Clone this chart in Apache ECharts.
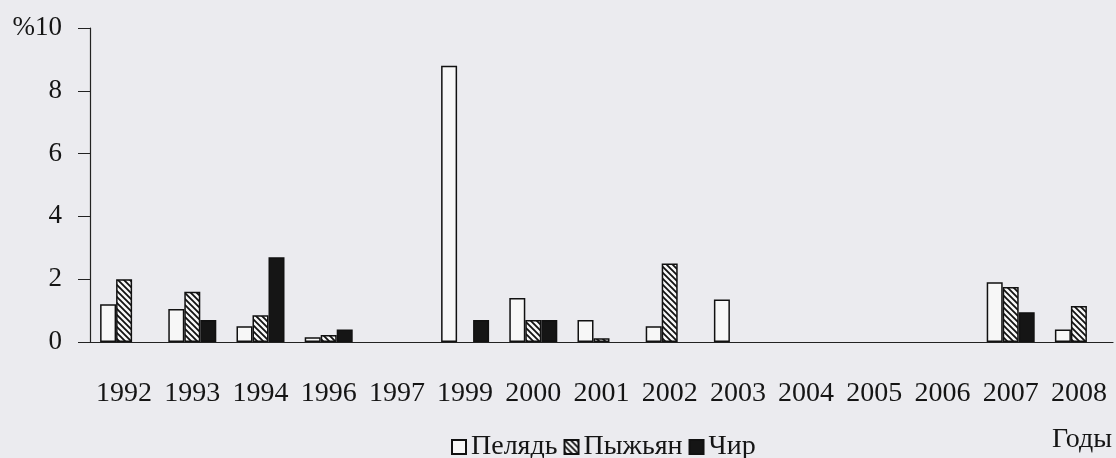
<!DOCTYPE html>
<html>
<head>
<meta charset="utf-8">
<script src="https://cdn.jsdelivr.net/npm/echarts@6/dist/echarts.min.js"></script>
<style>
html,body{margin:0;padding:0;background:#ebebef;}
#chart{width:1116px;height:458px;}
</style>
</head>
<body>
<div id="chart"></div>
<script>
// годы наблюдений
var years = ['1992','1993','1994','1996','1997','1999','2000','2001','2002','2003','2004','2005','2006','2007','2008'];
// доля по видам, %  ('-' = нет данных)
var pelyad  = [1.2, 1.05, 0.5, 0.15, '-', 8.8, 1.4, 0.7, 0.5, 1.35, '-', '-', '-', 1.9, 0.4];
var pyzhyan = [2.0, 1.6, 0.85, 0.22, '-', '-', 0.7, 0.12, 2.5, '-', '-', '-', '-', 1.75, 1.15];
var chir    = ['-', 0.7, 2.7, 0.4, '-', 0.7, 0.7, '-', '-', '-', '-', '-', '-', 0.95, '-'];

var FONT = 'Liberation Serif';

// штриховка для пыжьяна
function hatch() {
    var c = document.createElement('canvas');
    c.width = 6; c.height = 6;
    var g = c.getContext('2d');
    g.fillStyle = '#f7f7f7';
    g.fillRect(0, 0, 6, 6);
    g.strokeStyle = '#111';
    g.lineWidth = 1.8;
    g.beginPath();
    g.moveTo(-1, -1); g.lineTo(7, 7);
    g.moveTo(-4, 2); g.lineTo(4, 10);
    g.moveTo(2, -4); g.lineTo(10, 4);
    g.stroke();
    return c;
}

var myChart = echarts.init(document.getElementById('chart'));

var option = {
    backgroundColor: '#ebebef',
    animation: false,
    textStyle: {fontFamily: FONT, color: '#151515'},
    grid: {left: 90, right: 3, top: 28, bottom: 116},
    legend: {
        left: 446,
        top: 428,
        icon: 'rect',
        itemWidth: 14,
        itemHeight: 14,
        itemGap: 6,
        textStyle: {fontFamily: FONT, fontSize: 28, color: '#151515'},
        data: ['Пелядь', 'Пыжьян', 'Чир']
    },
    graphic: [{
        type: 'text',
        left: 1052,
        top: 426,
        style: {text: 'Годы', font: '28px "Liberation Serif"', fill: '#151515'}
    }],
    xAxis: {
        type: 'category',
        data: years,
        axisLine: {lineStyle: {color: '#222', width: 1.2}},
        axisTick: {length: 10, lineStyle: {color: '#222'}},
        axisLabel: {fontFamily: FONT, fontSize: 28, color: '#151515', margin: 38, interval: 0}
    },
    yAxis: {
        type: 'value',
        min: 0,
        max: 10,
        interval: 2,
        splitLine: {show: false},
        axisLine: {show: true, lineStyle: {color: '#222', width: 1.2}},
        axisTick: {show: true, length: 12, lineStyle: {color: '#222'}},
        axisLabel: {
            fontFamily: FONT, fontSize: 27, color: '#151515', margin: 28,
            formatter: function (v) { return v === 10 ? '%10' : String(v); }
        }
    },
    series: [
        {
            name: 'Пелядь', type: 'bar', data: pelyad,
            barWidth: 16, barGap: '0%',
            itemStyle: {color: '#f7f7f7', borderColor: '#111', borderWidth: 1.5}
        },
        {
            name: 'Пыжьян', type: 'bar', data: pyzhyan,
            barWidth: 16, barGap: '0%',
            itemStyle: {color: {image: hatch(), repeat: 'repeat'}, borderColor: '#111', borderWidth: 1.5}
        },
        {
            name: 'Чир', type: 'bar', data: chir,
            barWidth: 16, barGap: '0%',
            itemStyle: {color: '#151515', borderColor: '#111', borderWidth: 1.5}
        }
    ]
};

myChart.setOption(option);
</script>
</body>
</html>
